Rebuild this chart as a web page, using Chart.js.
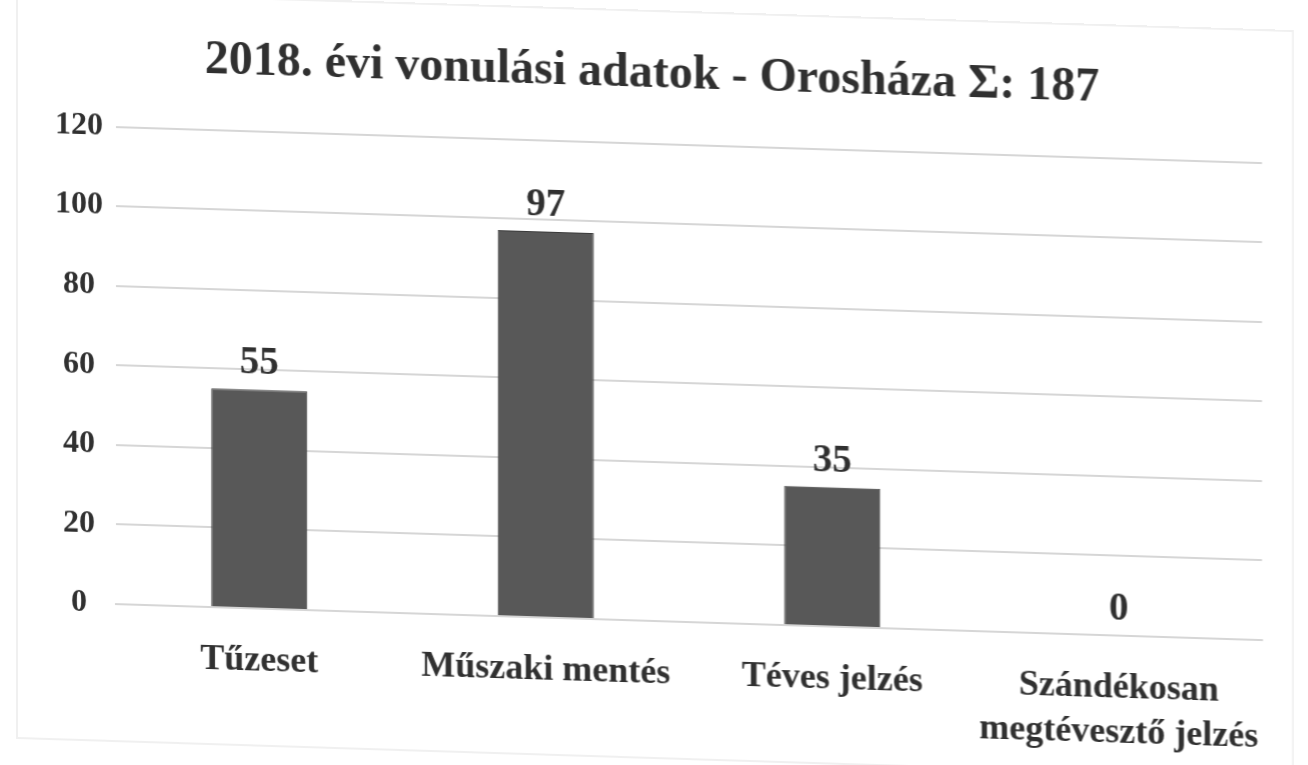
<!DOCTYPE html>
<html lang="hu">
<head>
    <meta charset="UTF-8">
    <title>2018. évi vonulási adatok - Orosháza</title>
    <style>
        html, body { margin: 0; padding: 0; background: #fff; overflow: hidden; }
        .chart-box {
            position: relative;
            width: 1308px;
            height: 765px;
            transform: skewY(1.8deg); /* the scan is slightly skewed */
            transform-origin: 50% 50%;
        }
        /* faint frame of the scanned chart */
        .chart-box::after {
            content: '';
            position: absolute;
            left: 16px; top: 10px; right: 14px; bottom: 6px;
            border: 2px solid #f0f0f0;
            pointer-events: none;
        }
    </style>
    <script src="https://cdn.jsdelivr.net/npm/chart.js"></script>
</head>
<body>
    <div class="chart-box">
        <canvas id="myBarChart" width="1308" height="765"></canvas>
    </div>

    <script>
        // Data
        var categories = ['Tűzeset', 'Műszaki mentés', 'Téves jelzés', ['Szándékosan', 'megtévesztő jelzés']];
        var values = [55, 97, 35, 0];
        var yTicks = [0, 20, 40, 60, 80, 100, 120];

        var serif = "'Liberation Serif', 'DejaVu Serif', serif";

        // Value labels above each bar
        const valueLabelPlugin = {
            id: 'valueLabelPlugin',
            afterDatasetsDraw: function(chart) {
                const ctx = chart.ctx;
                const meta = chart.getDatasetMeta(0);
                ctx.save();
                ctx.fillStyle = '#303030';
                ctx.font = 'bold 39px ' + serif;
                ctx.textAlign = 'center';
                ctx.textBaseline = 'alphabetic';
                meta.data.forEach(function(bar, i) {
                    ctx.fillText(values[i], bar.x, bar.y - 16);
                });
                ctx.restore();
            }
        };

        const chartBackgroundPlugin = {
            id: 'chartBackgroundPlugin',
            beforeDraw: function(chart) {
                const ctx = chart.ctx;
                ctx.save();
                ctx.fillStyle = '#fff';
                ctx.fillRect(0, 0, chart.width, chart.height);
                ctx.restore();
            }
        };

        var data = {
            labels: categories,
            datasets: [{
                data: values,
                backgroundColor: '#585858',
                borderColor: '#3a3a3a',
                borderWidth: 1,
                categoryPercentage: 1,
                barPercentage: 0.335
            }]
        };

        var options = {
            responsive: false,
            animation: false,
            layout: {
                padding: { top: 46, right: 46, bottom: 2, left: 42 }
            },
            plugins: {
                legend: { display: false },
                tooltip: { enabled: false },
                title: {
                    display: true,
                    text: '2018. évi vonulási adatok - Orosháza Σ: 187',
                    color: '#303030',
                    font: { family: serif, size: 48, weight: 'bold', lineHeight: 1.2 },
                    padding: { top: 0, bottom: 40 }
                }
            },
            scales: {
                y: {
                    min: 0,
                    max: 120,
                    afterBuildTicks: function(axis) {
                        axis.ticks = yTicks.map(function(v) { return { value: v }; });
                    },
                    grid: { color: '#d6d6d6', lineWidth: 2, drawTicks: false },
                    border: { display: false },
                    ticks: {
                        color: '#303030',
                        padding: 13,
                        crossAlign: 'center',
                        font: { family: serif, size: 32, weight: 'bold' }
                    }
                },
                x: {
                    grid: { display: false },
                    border: { color: '#d6d6d6', width: 2 },
                    ticks: {
                        color: '#303030',
                        padding: 22,
                        maxRotation: 0,
                        font: { family: serif, size: 36, weight: 'bold', lineHeight: 1.25 }
                    }
                }
            }
        };

        Chart.register(chartBackgroundPlugin, valueLabelPlugin);

        var ctx = document.getElementById('myBarChart').getContext('2d');
        new Chart(ctx, { type: 'bar', data: data, options: options });
    </script>
</body>
</html>
